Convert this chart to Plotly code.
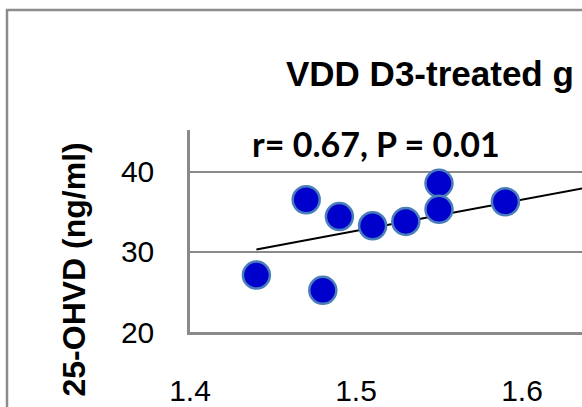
import plotly.graph_objects as go

# data
x_vals = [1.44, 1.47, 1.48, 1.49, 1.51, 1.53, 1.55, 1.55, 1.59]
y_vals = [27.1, 36.5, 25.2, 34.4, 33.25, 33.8, 38.55, 35.3, 36.25]
trend_slope = 38.8
trend_intercept = -25.57
trend_x = [1.44, 1.70]
trend_y = [trend_intercept + trend_slope * v for v in trend_x]
x_ticks = [1.4, 1.5, 1.6]
y_ticks = [20, 30, 40]
title_text = "VDD D3-treated g"
stat_text = "r= 0.67, P = 0.01"
y_title = "25-OHVD (ng/ml)"

W, H = 582, 407
L, T, B = 190, 130, 75
pw, ph = W - L, H - T - B

def px(xp):
    return (xp - L) / pw

def py(yp):
    return (H - B - yp) / ph

GRID = "#8a8a8a"

fig = go.Figure()
fig.add_trace(go.Scatter(x=trend_x, y=trend_y, mode="lines",
                         line=dict(color="black", width=2), hoverinfo="skip",
                         showlegend=False))
fig.add_trace(go.Scatter(x=x_vals, y=y_vals, mode="markers",
                         marker=dict(size=27, color="#0000CC",
                                     line=dict(color="#4A7EBB", width=2.5)),
                         showlegend=False))

fig.update_layout(
    width=W, height=H,
    margin=dict(l=L, r=0, t=T, b=B, pad=0, autoexpand=False),
    plot_bgcolor="white", paper_bgcolor="white",
    xaxis=dict(range=[1.4, 1.4 + pw / 1660], tickvals=x_ticks,
               ticktext=[f"{v:.1f}" for v in x_ticks], automargin=False,
               showgrid=False, zeroline=False, showline=True,
               linecolor=GRID, linewidth=2.5, ticks="",
               ticklabelstandoff=30,
               tickfont=dict(family="Liberation Sans, Arial", size=30, color="black")),
    yaxis=dict(range=[20, 45.2], tickvals=y_ticks, automargin=False,
               showgrid=True, gridcolor=GRID, gridwidth=2, zeroline=False,
               showline=True, linecolor=GRID, linewidth=2.5, ticks="",
               ticklabelstandoff=27,
               tickfont=dict(family="Liberation Sans, Arial", size=30, color="black")),
    font=dict(family="Liberation Sans, Arial", color="black"),
)

# outer chart frame (cropped at right/bottom)
fig.add_shape(type="rect", xref="paper", yref="paper",
              x0=px(7), x1=px(W + 40), y0=py(10), y1=py(H + 40),
              line=dict(color="#8c8c8c", width=2.5), fillcolor="rgba(0,0,0,0)",
              layer="below")

fig.add_annotation(text=title_text, xref="paper", yref="paper",
                   x=px(284), y=py(73), xanchor="left", yanchor="middle",
                   showarrow=False,
                   font=dict(family="Liberation Sans, Arial", size=35, color="black",
                             weight="bold"))
fig.add_annotation(text=stat_text, xref="paper", yref="paper",
                   x=px(250), y=py(143), xanchor="left", yanchor="middle",
                   showarrow=False,
                   font=dict(family="Lato", size=34, color="black", weight="bold"))
fig.add_annotation(text=y_title, xref="paper", yref="paper",
                   x=px(73), y=py(269.5), xanchor="center", yanchor="middle",
                   textangle=-90, showarrow=False,
                   font=dict(family="Liberation Sans, Arial", size=32, color="black",
                             weight="bold"))

fig.write_html("out.html")
